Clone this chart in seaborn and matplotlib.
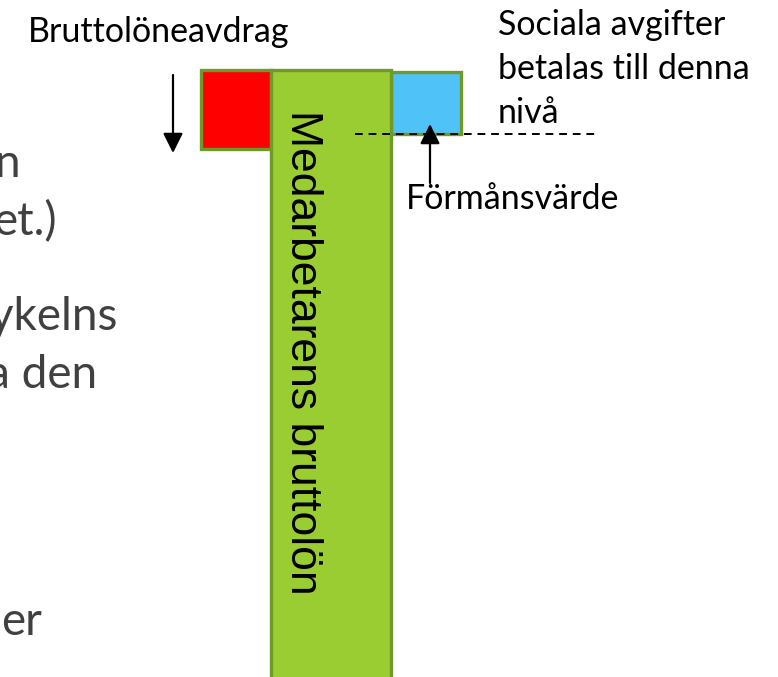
import seaborn as sb
import matplotlib.pyplot as plt

sb.set_style('white')
plt.rcParams['font.family'] = ['Lato', 'DejaVu Sans']

# salary levels (arbitrary units, 0 = bottom of picture)
parts = ["Bruttolöneavdrag", "Medarbetarens bruttolön", "Förmånsvärde"]
bottoms = [528, -20, 543]
tops = [607, 607, 605]
colors = ["#ff0000", "#9acd32", "#4fc3f7"]

# partial slide text on the left (cut off by the picture edge)
left_lines = ["n", "et.)", "cykelns", "a den", "er"]

label_deduction = "Bruttolöneavdrag"
label_social = ["Sociala avgifter", "betalas till denna", "nivå"]
label_benefit = "Förmånsvärde"

fig = plt.figure(figsize=(7.78, 6.77), dpi=100)
ax = fig.add_axes([0, 0, 1, 1])
ax.set_xlim(0, 778)
ax.set_ylim(0, 677)
ax.axis('off')

H = 677  # helper to turn picture rows into axis units

heights = [t - b for t, b in zip(tops, bottoms)]
xs = [236, 331, 426]
widths = [70, 120, 70]
for i in [0, 2, 1]:
    ax.bar(xs[i], heights[i], width=widths[i], bottom=bottoms[i], color=colors[i],
           edgecolor="#70992a", linewidth=2.4, zorder=2 if i == 1 else 1)

ax.text(291.5, H - 110, parts[1], rotation=-90, rotation_mode='anchor',
        ha='left', va='baseline', fontsize=32, color='black',
        family=['Liberation Sans', 'DejaVu Sans'], zorder=3)

# dashed level line
ax.plot([355, 595], [bottoms[2], bottoms[2]], color='black', lw=1.4,
        dashes=(4, 3), zorder=4)

# arrows
astyle = '-|>,head_length=0.6,head_width=0.3'
ax.annotate("", xy=(173, H - 153), xytext=(173, H - 75),
            arrowprops=dict(arrowstyle=astyle, color='black', lw=1.6,
                            mutation_scale=20, shrinkA=0, shrinkB=0))
ax.annotate("", xy=(430, H - 124), xytext=(430, H - 183),
            arrowprops=dict(arrowstyle=astyle, color='black', lw=1.6,
                            mutation_scale=20, shrinkA=0, shrinkB=0), zorder=5)

ax.text(28, H - 42, label_deduction, fontsize=24.5, color='black', va='baseline')
for k, line in enumerate(label_social):
    ax.text(498, H - 35 - 44 * k, line, fontsize=24.5, color='black', va='baseline')
ax.text(406, H - 209, label_benefit, fontsize=24.5, color='black', va='baseline')

left_x = [20, 57, 118, 97, 42]
left_y = [177, 235, 330, 388, 635]
for txt, lx, ly in zip(left_lines, left_x, left_y):
    ax.text(lx, H - ly, txt, fontsize=33, color='#404040', ha='right', va='baseline')

plt.savefig("out.png", dpi=100)
